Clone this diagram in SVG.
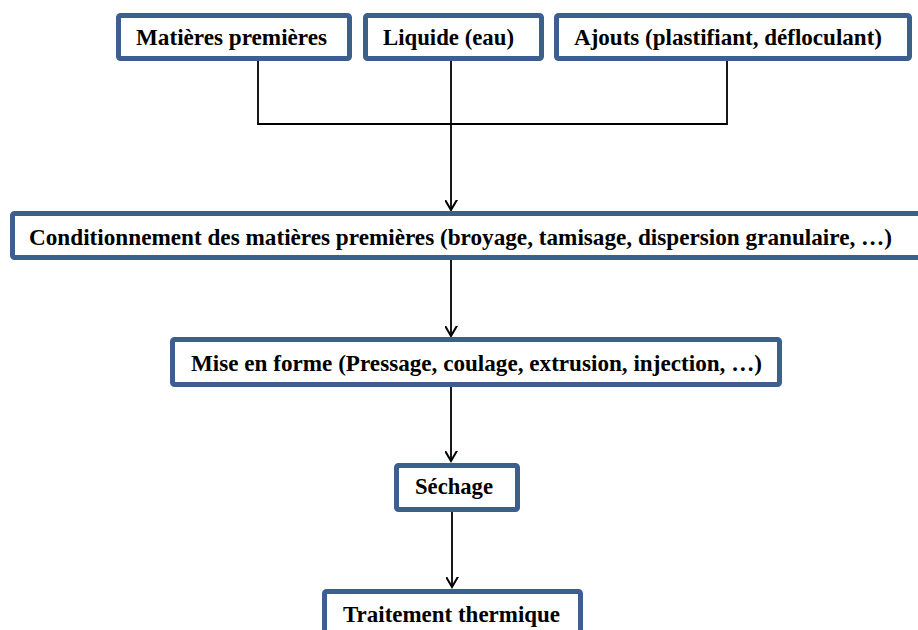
<svg xmlns="http://www.w3.org/2000/svg" width="918" height="630" viewBox="0 0 918 630">
<defs>
<style>
.box{fill:#fff;stroke:#3d5f8d;stroke-width:5;}
.lbl{font-family:"Liberation Serif","Times New Roman",serif;font-weight:bold;font-size:23px;fill:#000;}
.ln{fill:none;stroke:#000;stroke-width:1.8;}
</style>
<marker id="arr" markerUnits="userSpaceOnUse" markerWidth="20" markerHeight="20" viewBox="-10 -14 20 20" refX="0" refY="0" orient="auto">
<path d="M-12,-7 L0,0 L-12,7" fill="none" stroke="#000" stroke-width="2"/>
</marker>
</defs>
<rect width="918" height="630" fill="#fff"/>
<g id="connectors">
<path class="ln" d="M258,61 V124 H727 V61"/>
<path class="ln" d="M451,61 V210" marker-end="url(#arr)"/>
<path class="ln" d="M451,260 V336" marker-end="url(#arr)"/>
<path class="ln" d="M451,387 V461" marker-end="url(#arr)"/>
<path class="ln" d="M452,512 V587" marker-end="url(#arr)"/>
</g>
<g id="n1"><rect class="box" x="118.5" y="15.5" width="231" height="43" rx="2"/><text class="lbl" x="136" y="45" textLength="191" lengthAdjust="spacingAndGlyphs">Matières premières</text></g>
<g id="n2"><rect class="box" x="365.5" y="15.5" width="176" height="43" rx="2"/><text class="lbl" x="383" y="45" textLength="131" lengthAdjust="spacingAndGlyphs">Liquide (eau)</text></g>
<g id="n3"><rect class="box" x="556.5" y="15.5" width="353" height="43" rx="2"/><text class="lbl" x="574" y="45" textLength="308" lengthAdjust="spacingAndGlyphs">Ajouts (plastifiant, défloculant)</text></g>
<g id="n4"><rect class="box" x="12.5" y="213.5" width="920" height="44" rx="2"/><text class="lbl" x="29" y="245" textLength="863" lengthAdjust="spacingAndGlyphs">Conditionnement des matières premières (broyage, tamisage, dispersion granulaire, …)</text></g>
<g id="n5"><rect class="box" x="172.5" y="339.5" width="607" height="45" rx="2"/><text class="lbl" x="191" y="371" textLength="571" lengthAdjust="spacingAndGlyphs">Mise en forme (Pressage, coulage, extrusion, injection, …)</text></g>
<g id="n6"><rect class="box" x="396.5" y="465.5" width="121" height="44" rx="2"/><text class="lbl" x="415" y="494" textLength="78" lengthAdjust="spacingAndGlyphs">Séchage</text></g>
<g id="n7"><rect class="box" x="324.5" y="591.5" width="256" height="60" rx="2"/><text class="lbl" x="343" y="622" textLength="217" lengthAdjust="spacingAndGlyphs">Traitement thermique</text></g>
</svg>
